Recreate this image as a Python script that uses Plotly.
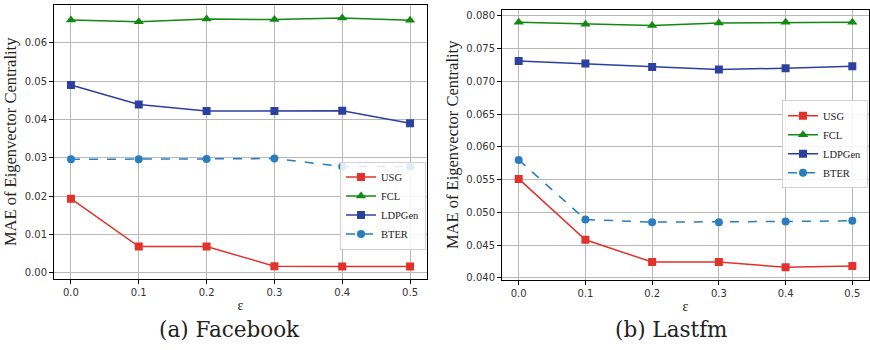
import plotly.graph_objects as go

eps = [0.0, 0.1, 0.2, 0.3, 0.4, 0.5]
eps_ticks = ["0.0", "0.1", "0.2", "0.3", "0.4", "0.5"]

# (a) Facebook
fb_usg = [0.0193, 0.0068, 0.0068, 0.0017, 0.0016, 0.0016]
fb_fcl = [0.0660, 0.0655, 0.0662, 0.0661, 0.0665, 0.0659]
fb_ldpgen = [0.0490, 0.0439, 0.0422, 0.0422, 0.0423, 0.0390]
fb_bter = [0.0296, 0.0296, 0.0297, 0.0298, 0.0277, 0.0277]
fb_yticks = [0.00, 0.01, 0.02, 0.03, 0.04, 0.05, 0.06]

# (b) Lastfm
lf_usg = [0.0551, 0.0458, 0.0424, 0.0424, 0.0416, 0.0418]
lf_fcl = [0.0790, 0.0787, 0.0785, 0.0789, 0.0790, 0.0790]
lf_ldpgen = [0.0731, 0.0727, 0.0722, 0.0718, 0.0720, 0.0723]
lf_bter = [0.0580, 0.0489, 0.0485, 0.0485, 0.0486, 0.0487]
lf_yticks = [0.040, 0.045, 0.050, 0.055, 0.060, 0.065, 0.070, 0.075, 0.080]

names = ["USG", "FCL", "LDPGen", "BTER"]
colors = ["#e3312b", "#108a10", "#2c40a0", "#2a7dbf"]
symbols = ["square", "triangle-up", "square", "circle"]
dashes = ["solid", "solid", "solid", "dash"]

W, H = 870, 350
def xd(a, b):
    return [a / W, b / W]
def yd(top, bot):
    return [1 - bot / H, 1 - top / H]

fig = go.Figure()

panels = [
    (["x", "y", "legend"], [fb_usg, fb_fcl, fb_ldpgen, fb_bter]),
    (["x2", "y2", "legend2"], [lf_usg, lf_fcl, lf_ldpgen, lf_bter]),
]
for (xa, ya, lg), series in panels:
    for name, vals, c, s, d in zip(names, series, colors, symbols, dashes):
        fig.add_trace(go.Scatter(
            x=eps, y=vals, name=name, mode="lines+markers",
            line=dict(color=c, width=1.5, dash=d),
            marker=dict(symbol=s, size=8 if s != "triangle-up" else 9, color=c),
            xaxis=xa, yaxis=ya, legend=lg,
        ))

serif = "Liberation Serif, Times New Roman, serif"
tickfont = dict(family="DejaVu Sans", size=10, color="#333333")
titlefont = dict(family=serif, size=16.5, color="#222222")
common_x = dict(
    range=[-0.025, 0.525], tickvals=eps, ticktext=eps_ticks,
    showline=True, linecolor="black", linewidth=1, mirror=True,
    ticks="outside", ticklen=4, tickcolor="black", tickwidth=1,
    showgrid=True, gridcolor="#b8b8b8", gridwidth=1,
    zeroline=False, tickfont=tickfont,
    title=dict(text="ε", font=dict(family=serif, size=14, color="#222222"), standoff=3),
)
common_y = dict(
    showline=True, linecolor="black", linewidth=1, mirror=True,
    ticks="outside", ticklen=4, tickcolor="black", tickwidth=1,
    showgrid=True, gridcolor="#b8b8b8", gridwidth=1,
    zeroline=False, tickfont=tickfont,
    title=dict(text="MAE of Eigenvector Centrality", font=titlefont, standoff=3),
)
legfont = dict(family=serif, size=10.5, color="#222222")

fig.update_layout(
    width=W, height=H, margin=dict(l=0, r=0, t=0, b=0),
    paper_bgcolor="white", plot_bgcolor="white",
    xaxis=dict(domain=xd(54, 427), anchor="y", **common_x),
    yaxis=dict(domain=yd(5, 282), anchor="x", range=[-0.0016, 0.0699],
               tickvals=fb_yticks, ticktext=[f"{v:.2f}" for v in fb_yticks], **common_y),
    xaxis2=dict(domain=xd(502, 869), anchor="y2", **common_x),
    yaxis2=dict(domain=yd(10, 283), anchor="x2", range=[0.0397, 0.0809],
                tickvals=lf_yticks, ticktext=[f"{v:.3f}" for v in lf_yticks], **common_y),
    legend=dict(x=426 / W, y=1 - 208 / H, xanchor="right", yanchor="middle",
                bgcolor="rgba(255,255,255,0.85)", bordercolor="#d0d0d0", borderwidth=1,
                font=legfont, tracegroupgap=0, itemwidth=30),
    legend2=dict(x=868 / W, y=1 - 146 / H, xanchor="right", yanchor="middle",
                 bgcolor="rgba(255,255,255,0.85)", bordercolor="#d0d0d0", borderwidth=1,
                 font=legfont, tracegroupgap=0, itemwidth=30),
    annotations=[
        dict(text="(a) Facebook", x=229 / W, y=1 - 348 / H, xref="paper", yref="paper",
             showarrow=False, font=dict(family="DejaVu Serif", size=21.5, color="#222222"),
             xanchor="center", yanchor="bottom"),
        dict(text="(b) Lastfm", x=671 / W, y=1 - 348 / H, xref="paper", yref="paper",
             showarrow=False, font=dict(family="DejaVu Serif", size=21.5, color="#222222"),
             xanchor="center", yanchor="bottom"),
    ],
)

fig.write_html("out.html", config={"displayModeBar": False},
               post_script="document.body.style.margin='0';document.body.style.overflow='hidden';")
